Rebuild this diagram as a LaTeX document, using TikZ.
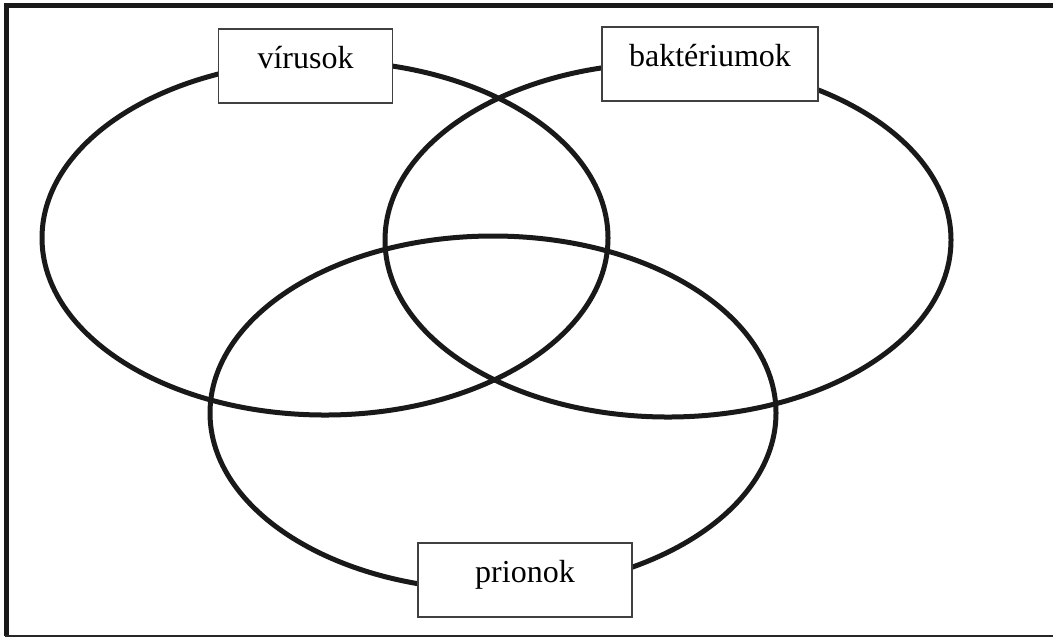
\documentclass[tikz,border=0pt]{standalone}
\usepackage{fontspec}
\setmainfont{Liberation Serif}
\usetikzlibrary{positioning}

\tikzset{
  halmaz/.style={line width=2.5pt,draw=black!90},
  cimke/.style={draw=black!75,line width=0.7pt,fill=white,inner sep=0pt,
    minimum height=37pt,text height=0.7em,text depth=0.5em,
    font=\fontsize{16}{18}\selectfont}
}

\begin{document}
\begin{tikzpicture}[x=0.5pt,y=-0.5pt]

\def\rX{283}
\def\rY{177}

\useasboundingbox (0,0) rectangle (1053,639);

% keret
\draw [line width=2.5pt,black!90] (6.5,636) -- (6.5,5.5) -- (1053,5.5);
\draw [line width=1pt,black!85] (5,636) -- (1053,636);

% the three sets
\draw [halmaz] (325,238) ellipse [x radius=\rX, y radius=\rY];
\draw [halmaz] (668,240) ellipse [x radius=\rX, y radius=\rY];
\draw [halmaz] (493,413) ellipse [x radius=\rX, y radius=\rY];

% labels
\node [cimke,minimum width=87pt] (virus) at (305.5,66) {vírusok};
\node [cimke,minimum width=108pt] (bakter) at (710,64) {baktériumok};
\node [cimke,minimum width=107pt] (prion) at (525,580) {prionok};

\end{tikzpicture}
\end{document}
